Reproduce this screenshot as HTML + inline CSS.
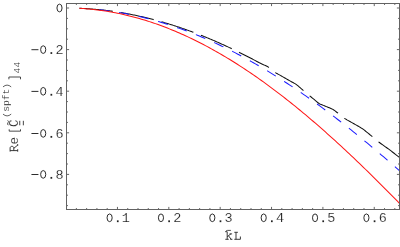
<!DOCTYPE html>
<html><head><meta charset="utf-8"><title>plot</title>
<style>
html,body{margin:0;padding:0;background:#fff;}
body{width:400px;height:247px;overflow:hidden;}
svg{display:block;will-change:transform;}
text{font-family:"Liberation Mono",monospace;fill:#1c1c1c;stroke:#fff;stroke-width:0.15px;}
</style></head><body>
<svg width="400" height="247" viewBox="0 0 400 247">
<defs><clipPath id="cb"><rect x="92" y="0" width="308" height="247"/></clipPath></defs>
<rect width="400" height="247" fill="#fff"/>
<g fill="none" stroke-width="1.02" stroke-linecap="butt">
<path d="M79.40,8.27 L80.40,8.31 L81.40,8.36 L82.40,8.41 L83.40,8.46 L84.40,8.51 L85.40,8.57 L86.40,8.63 L87.40,8.69 L88.40,8.76 L89.40,8.83 L90.40,8.90 L91.40,8.98 L92.40,9.06 L93.40,9.14 L94.40,9.22 L95.40,9.31 L96.40,9.40 L97.40,9.50 L98.40,9.59 L99.40,9.69 L100.40,9.80 L101.40,9.90 L102.40,10.01 L103.40,10.12 L104.40,10.24 L105.40,10.36 L106.40,10.48 L107.40,10.60 L108.40,10.73 L109.40,10.86 L110.40,10.99 L111.40,11.13 L112.40,11.27 L113.40,11.41 L114.40,11.56 L115.40,11.71 L116.40,11.86 L117.40,12.01 L118.40,12.17 L119.40,12.33 L120.40,12.49 L121.40,12.66 L122.40,12.83 L123.40,13.00 L124.40,13.18 L125.40,13.36 L126.40,13.54 L127.40,13.72 L128.40,13.91 L129.40,14.10 L130.40,14.29 L131.40,14.49 L132.40,14.69 L133.40,14.89 L134.40,15.10 L135.40,15.30 L136.40,15.52 L137.40,15.73 L138.40,15.95 L139.40,16.17 L140.40,16.39 L141.40,16.62 L142.40,16.84 L143.40,17.08 L144.40,17.31 L145.40,17.55 L146.40,17.79 L147.40,18.03 L148.40,18.28 L149.40,18.53 L150.40,18.78 L151.40,19.04 L152.40,19.29 L153.40,19.56 L154.40,19.82 L155.40,20.09 L156.40,20.36 L157.40,20.63 L158.40,20.90 L159.40,21.18 L160.40,21.46 L161.40,21.75 L162.40,22.04 L163.40,22.33 L164.40,22.62 L165.40,22.91 L166.40,23.21 L167.40,23.51 L168.40,23.82 L169.40,24.13 L170.40,24.44 L171.40,24.75 L172.40,25.06 L173.40,25.38 L174.40,25.70 L175.40,26.03 L176.40,26.36 L177.40,26.68 L178.40,27.02 L179.40,27.35 L180.40,27.69 L181.40,28.03 L182.40,28.38 L183.40,28.72 L184.40,29.07 L185.40,29.42 L186.40,29.78 L187.40,30.14 L188.40,30.50 L189.40,30.86 L190.40,31.23 L191.40,31.59 L192.40,31.97 L193.40,32.34 L194.40,32.72 L195.40,33.10 L196.40,33.48 L197.40,33.86 L198.40,34.25 L199.40,34.64 L200.40,35.04 L201.40,35.43 L202.40,35.83 L203.40,36.23 L204.40,36.64 L205.40,37.04 L206.40,37.45 L207.40,37.86 L208.40,38.28 L209.40,38.70 L210.40,39.12 L211.40,39.54 L212.40,39.96 L213.40,40.39 L214.40,40.82 L215.40,41.26 L216.40,41.69 L217.40,42.13 L218.40,42.57 L219.40,43.01 L220.40,43.46 L221.40,43.91 L222.40,44.36 L223.40,44.81 L224.40,45.27 L225.40,45.73 L226.40,46.19 L227.40,46.65 L228.40,47.12 L229.40,47.59 L230.40,48.06 L231.40,48.54 L232.40,49.01 L233.40,49.49 L234.40,49.97 L235.40,50.46 L236.40,50.94 L237.40,51.43 L238.40,51.93 L239.40,52.42 L240.40,52.92 L241.40,53.42 L242.40,53.92 L243.40,54.42 L244.40,54.93 L245.40,55.44 L246.40,55.95 L247.40,56.46 L248.40,56.98 L249.40,57.49 L250.40,58.02 L251.40,58.54 L252.40,59.06 L253.40,59.59 L254.40,60.13 L255.40,60.67 L256.40,61.21 L257.40,61.75 L258.40,62.29 L259.40,62.81 L260.40,63.30 L261.40,63.77 L262.40,64.22 L263.40,64.66 L264.40,65.11 L265.40,65.57 L266.40,66.05 L267.40,66.57 L268.40,67.13 L269.40,67.76 L270.40,68.51 L271.40,69.35 L272.40,70.23 L273.40,71.10 L274.40,71.91 L275.40,72.62 L276.40,73.23 L277.40,73.79 L278.40,74.33 L279.40,74.87 L280.40,75.43 L281.40,76.00 L282.40,76.57 L283.40,77.14 L284.40,77.72 L285.40,78.29 L286.40,78.87 L287.40,79.44 L288.40,80.01 L289.40,80.58 L290.40,81.15 L291.40,81.71 L292.40,82.27 L293.40,82.81 L294.40,83.33 L295.40,83.90 L296.40,84.58 L297.40,85.35 L298.40,86.18 L299.40,87.05 L300.40,87.95 L301.40,88.85 L302.40,89.74 L303.40,90.60 L304.40,91.43 L305.40,92.27 L306.40,93.10 L307.40,93.93 L308.40,94.76 L309.40,95.59 L310.40,96.41 L311.40,97.24 L312.40,98.07 L313.40,98.89 L314.40,99.72 L315.40,100.56 L316.40,101.40 L317.40,102.23 L318.40,103.01 L319.40,103.74 L320.40,104.20 L321.40,104.56 L322.40,104.96 L323.40,105.38 L324.40,105.79 L325.40,106.20 L326.40,106.61 L327.40,107.01 L328.40,107.41 L329.40,107.81 L330.40,108.23 L331.40,108.68 L332.40,109.16 L333.40,109.72 L334.40,110.44 L335.40,111.22 L336.40,111.98 L337.40,112.73 L338.40,113.50 L339.40,114.29 L340.40,115.11 L341.40,115.93 L342.40,116.74 L343.40,117.51 L344.40,118.23 L345.40,118.89 L346.40,119.51 L347.40,120.11 L348.40,120.68 L349.40,121.24 L350.40,121.80 L351.40,122.36 L352.40,122.93 L353.40,123.50 L354.40,124.05 L355.40,124.61 L356.40,125.16 L357.40,125.72 L358.40,126.29 L359.40,126.87 L360.40,127.46 L361.40,128.06 L362.40,128.70 L363.40,129.41 L364.40,130.20 L365.40,131.01 L366.40,131.82 L367.40,132.62 L368.40,133.43 L369.40,134.24 L370.40,135.06 L371.40,135.88 L372.40,136.70 L373.40,137.53 L374.40,138.38 L375.40,139.22 L376.40,140.07 L377.40,140.90 L378.40,141.71 L379.40,142.49 L380.40,143.24 L381.40,143.98 L382.40,144.70 L383.40,145.41 L384.40,146.12 L385.40,146.82 L386.40,147.52 L387.40,148.24 L388.40,148.96 L389.40,149.70 L390.40,150.45 L391.40,151.21 L392.40,151.97 L393.40,152.73 L394.40,153.50 L395.40,154.28 L396.40,155.06 L397.40,155.84 L398.40,156.63 L399.40,157.42 L400.00,157.90" stroke="#111" stroke-dasharray="33.6 8.1"/>
<path d="M79.40,8.28 L81.40,8.38 L83.40,8.48 L85.40,8.60 L87.40,8.73 L89.40,8.87 L91.40,9.03 L93.40,9.19 L95.40,9.38 L97.40,9.57 L99.40,9.78 L101.40,10.00 L103.40,10.23 L105.40,10.47 L107.40,10.73 L109.40,11.00 L111.40,11.28 L113.40,11.58 L115.40,11.89 L117.40,12.21 L119.40,12.54 L121.40,12.89 L123.40,13.25 L125.40,13.62 L127.40,14.01 L129.40,14.40 L131.40,14.81 L133.40,15.24 L135.40,15.67 L137.40,16.12 L139.40,16.58 L141.40,17.05 L143.40,17.53 L145.40,18.03 L147.40,18.54 L149.40,19.06 L151.40,19.60 L153.40,20.14 L155.40,20.70 L157.40,21.28 L159.40,21.86 L161.40,22.46 L163.40,23.06 L165.40,23.69 L167.40,24.32 L169.40,24.96 L171.40,25.62 L173.40,26.29 L175.40,26.97 L177.40,27.67 L179.40,28.37 L181.40,29.09 L183.40,29.82 L185.40,30.56 L187.40,31.32 L189.40,32.08 L191.40,32.86 L193.40,33.65 L195.40,34.45 L197.40,35.26 L199.40,36.09 L201.40,36.93 L203.40,37.78 L205.40,38.64 L207.40,39.51 L209.40,40.39 L211.40,41.29 L213.40,42.19 L215.40,43.11 L217.40,44.04 L219.40,44.98 L221.40,45.94 L223.40,46.90 L225.40,47.88 L227.40,48.86 L229.40,49.86 L231.40,50.87 L233.40,51.89 L235.40,52.92 L237.40,53.96 L239.40,55.02 L241.40,56.08 L243.40,57.16 L245.40,58.24 L247.40,59.34 L249.40,60.45 L251.40,61.57 L253.40,62.70 L255.40,63.84 L257.40,64.99 L259.40,66.15 L261.40,67.33 L263.40,68.51 L265.40,69.70 L267.40,70.91 L269.40,72.12 L271.40,73.35 L273.40,74.58 L275.40,75.83 L277.40,77.08 L279.40,78.35 L281.40,79.62 L283.40,80.91 L285.40,82.21 L287.40,83.51 L289.40,84.83 L291.40,86.15 L293.40,87.49 L295.40,88.83 L297.40,90.19 L299.40,91.55 L301.40,92.93 L303.40,94.31 L305.40,95.70 L307.40,97.10 L309.40,98.51 L311.40,99.94 L313.40,101.37 L315.40,102.80 L317.40,104.25 L319.40,105.71 L321.40,107.18 L323.40,108.65 L325.40,110.14 L327.40,111.63 L329.40,113.13 L331.40,114.64 L333.40,116.16 L335.40,117.69 L337.40,119.22 L339.40,120.77 L341.40,122.32 L343.40,123.88 L345.40,125.45 L347.40,127.03 L349.40,128.61 L351.40,130.20 L353.40,131.81 L355.40,133.42 L357.40,135.03 L359.40,136.66 L361.40,138.29 L363.40,139.93 L365.40,141.58 L367.40,143.23 L369.40,144.89 L371.40,146.56 L373.40,148.24 L375.40,149.92 L377.40,151.61 L379.40,153.31 L381.40,155.02 L383.40,156.73 L385.40,158.45 L387.40,160.17 L389.40,161.91 L391.40,163.64 L393.40,165.39 L395.40,167.14 L397.40,168.90 L399.40,170.66 L400.00,171.19" stroke="#1a1aff" stroke-dasharray="10.15 9.85" clip-path="url(#cb)"/>
<path d="M79.40,8.35 L81.40,8.46 L83.40,8.59 L85.40,8.74 L87.40,8.90 L89.40,9.07 L91.40,9.26 L93.40,9.47 L95.40,9.69 L97.40,9.93 L99.40,10.19 L101.40,10.46 L103.40,10.75 L105.40,11.05 L107.40,11.36 L109.40,11.70 L111.40,12.05 L113.40,12.41 L115.40,12.79 L117.40,13.19 L119.40,13.60 L121.40,14.02 L123.40,14.47 L125.40,14.92 L127.40,15.40 L129.40,15.89 L131.40,16.39 L133.40,16.91 L135.40,17.44 L137.40,17.99 L139.40,18.56 L141.40,19.14 L143.40,19.74 L145.40,20.35 L147.40,20.98 L149.40,21.62 L151.40,22.27 L153.40,22.95 L155.40,23.63 L157.40,24.34 L159.40,25.05 L161.40,25.78 L163.40,26.53 L165.40,27.29 L167.40,28.07 L169.40,28.86 L171.40,29.67 L173.40,30.49 L175.40,31.33 L177.40,32.18 L179.40,33.04 L181.40,33.92 L183.40,34.82 L185.40,35.73 L187.40,36.65 L189.40,37.59 L191.40,38.54 L193.40,39.51 L195.40,40.49 L197.40,41.48 L199.40,42.49 L201.40,43.52 L203.40,44.55 L205.40,45.60 L207.40,46.67 L209.40,47.75 L211.40,48.84 L213.40,49.95 L215.40,51.07 L217.40,52.21 L219.40,53.35 L221.40,54.52 L223.40,55.69 L225.40,56.88 L227.40,58.08 L229.40,59.30 L231.40,60.53 L233.40,61.77 L235.40,63.02 L237.40,64.29 L239.40,65.57 L241.40,66.87 L243.40,68.18 L245.40,69.50 L247.40,70.83 L249.40,72.18 L251.40,73.53 L253.40,74.90 L255.40,76.29 L257.40,77.68 L259.40,79.09 L261.40,80.51 L263.40,81.95 L265.40,83.39 L267.40,84.85 L269.40,86.32 L271.40,87.80 L273.40,89.29 L275.40,90.79 L277.40,92.31 L279.40,93.84 L281.40,95.38 L283.40,96.93 L285.40,98.49 L287.40,100.06 L289.40,101.65 L291.40,103.24 L293.40,104.85 L295.40,106.47 L297.40,108.10 L299.40,109.74 L301.40,111.38 L303.40,113.05 L305.40,114.72 L307.40,116.40 L309.40,118.09 L311.40,119.79 L313.40,121.50 L315.40,123.23 L317.40,124.96 L319.40,126.70 L321.40,128.45 L323.40,130.21 L325.40,131.98 L327.40,133.76 L329.40,135.55 L331.40,137.35 L333.40,139.16 L335.40,140.98 L337.40,142.80 L339.40,144.64 L341.40,146.48 L343.40,148.34 L345.40,150.20 L347.40,152.07 L349.40,153.94 L351.40,155.83 L353.40,157.72 L355.40,159.63 L357.40,161.54 L359.40,163.45 L361.40,165.38 L363.40,167.31 L365.40,169.25 L367.40,171.20 L369.40,173.16 L371.40,175.12 L373.40,177.09 L375.40,179.07 L377.40,181.05 L379.40,183.04 L381.40,185.04 L383.40,187.04 L385.40,189.05 L387.40,191.06 L389.40,193.08 L391.40,195.11 L393.40,197.15 L395.40,199.18 L397.40,201.23 L399.40,203.28 L400.00,203.89" stroke="#ff1414"/>
</g>
<g stroke="#4a4a4a" stroke-width="0.85"><line x1="76.37" y1="209.50" x2="76.37" y2="208.05"/><line x1="76.37" y1="3.50" x2="76.37" y2="4.95"/><line x1="86.64" y1="209.50" x2="86.64" y2="208.05"/><line x1="86.64" y1="3.50" x2="86.64" y2="4.95"/><line x1="96.92" y1="209.50" x2="96.92" y2="208.05"/><line x1="96.92" y1="3.50" x2="96.92" y2="4.95"/><line x1="107.19" y1="209.50" x2="107.19" y2="208.05"/><line x1="107.19" y1="3.50" x2="107.19" y2="4.95"/><line x1="117.46" y1="209.50" x2="117.46" y2="206.90"/><line x1="117.46" y1="3.50" x2="117.46" y2="6.10"/><line x1="127.73" y1="209.50" x2="127.73" y2="208.05"/><line x1="127.73" y1="3.50" x2="127.73" y2="4.95"/><line x1="138.00" y1="209.50" x2="138.00" y2="208.05"/><line x1="138.00" y1="3.50" x2="138.00" y2="4.95"/><line x1="148.28" y1="209.50" x2="148.28" y2="208.05"/><line x1="148.28" y1="3.50" x2="148.28" y2="4.95"/><line x1="158.55" y1="209.50" x2="158.55" y2="208.05"/><line x1="158.55" y1="3.50" x2="158.55" y2="4.95"/><line x1="168.82" y1="209.50" x2="168.82" y2="206.90"/><line x1="168.82" y1="3.50" x2="168.82" y2="6.10"/><line x1="179.09" y1="209.50" x2="179.09" y2="208.05"/><line x1="179.09" y1="3.50" x2="179.09" y2="4.95"/><line x1="189.36" y1="209.50" x2="189.36" y2="208.05"/><line x1="189.36" y1="3.50" x2="189.36" y2="4.95"/><line x1="199.64" y1="209.50" x2="199.64" y2="208.05"/><line x1="199.64" y1="3.50" x2="199.64" y2="4.95"/><line x1="209.91" y1="209.50" x2="209.91" y2="208.05"/><line x1="209.91" y1="3.50" x2="209.91" y2="4.95"/><line x1="220.18" y1="209.50" x2="220.18" y2="206.90"/><line x1="220.18" y1="3.50" x2="220.18" y2="6.10"/><line x1="230.45" y1="209.50" x2="230.45" y2="208.05"/><line x1="230.45" y1="3.50" x2="230.45" y2="4.95"/><line x1="240.72" y1="209.50" x2="240.72" y2="208.05"/><line x1="240.72" y1="3.50" x2="240.72" y2="4.95"/><line x1="251.00" y1="209.50" x2="251.00" y2="208.05"/><line x1="251.00" y1="3.50" x2="251.00" y2="4.95"/><line x1="261.27" y1="209.50" x2="261.27" y2="208.05"/><line x1="261.27" y1="3.50" x2="261.27" y2="4.95"/><line x1="271.54" y1="209.50" x2="271.54" y2="206.90"/><line x1="271.54" y1="3.50" x2="271.54" y2="6.10"/><line x1="281.81" y1="209.50" x2="281.81" y2="208.05"/><line x1="281.81" y1="3.50" x2="281.81" y2="4.95"/><line x1="292.08" y1="209.50" x2="292.08" y2="208.05"/><line x1="292.08" y1="3.50" x2="292.08" y2="4.95"/><line x1="302.36" y1="209.50" x2="302.36" y2="208.05"/><line x1="302.36" y1="3.50" x2="302.36" y2="4.95"/><line x1="312.63" y1="209.50" x2="312.63" y2="208.05"/><line x1="312.63" y1="3.50" x2="312.63" y2="4.95"/><line x1="322.90" y1="209.50" x2="322.90" y2="206.90"/><line x1="322.90" y1="3.50" x2="322.90" y2="6.10"/><line x1="333.17" y1="209.50" x2="333.17" y2="208.05"/><line x1="333.17" y1="3.50" x2="333.17" y2="4.95"/><line x1="343.44" y1="209.50" x2="343.44" y2="208.05"/><line x1="343.44" y1="3.50" x2="343.44" y2="4.95"/><line x1="353.72" y1="209.50" x2="353.72" y2="208.05"/><line x1="353.72" y1="3.50" x2="353.72" y2="4.95"/><line x1="363.99" y1="209.50" x2="363.99" y2="208.05"/><line x1="363.99" y1="3.50" x2="363.99" y2="4.95"/><line x1="374.26" y1="209.50" x2="374.26" y2="206.90"/><line x1="374.26" y1="3.50" x2="374.26" y2="6.10"/><line x1="384.53" y1="209.50" x2="384.53" y2="208.05"/><line x1="384.53" y1="3.50" x2="384.53" y2="4.95"/><line x1="394.80" y1="209.50" x2="394.80" y2="208.05"/><line x1="394.80" y1="3.50" x2="394.80" y2="4.95"/><line x1="66.50" y1="8.00" x2="69.10" y2="8.00"/><line x1="399.50" y1="8.00" x2="396.90" y2="8.00"/><line x1="66.50" y1="18.40" x2="67.95" y2="18.40"/><line x1="399.50" y1="18.40" x2="398.05" y2="18.40"/><line x1="66.50" y1="28.80" x2="67.95" y2="28.80"/><line x1="399.50" y1="28.80" x2="398.05" y2="28.80"/><line x1="66.50" y1="39.20" x2="67.95" y2="39.20"/><line x1="399.50" y1="39.20" x2="398.05" y2="39.20"/><line x1="66.50" y1="49.60" x2="69.10" y2="49.60"/><line x1="399.50" y1="49.60" x2="396.90" y2="49.60"/><line x1="66.50" y1="60.00" x2="67.95" y2="60.00"/><line x1="399.50" y1="60.00" x2="398.05" y2="60.00"/><line x1="66.50" y1="70.40" x2="67.95" y2="70.40"/><line x1="399.50" y1="70.40" x2="398.05" y2="70.40"/><line x1="66.50" y1="80.80" x2="67.95" y2="80.80"/><line x1="399.50" y1="80.80" x2="398.05" y2="80.80"/><line x1="66.50" y1="91.20" x2="69.10" y2="91.20"/><line x1="399.50" y1="91.20" x2="396.90" y2="91.20"/><line x1="66.50" y1="101.60" x2="67.95" y2="101.60"/><line x1="399.50" y1="101.60" x2="398.05" y2="101.60"/><line x1="66.50" y1="112.00" x2="67.95" y2="112.00"/><line x1="399.50" y1="112.00" x2="398.05" y2="112.00"/><line x1="66.50" y1="122.40" x2="67.95" y2="122.40"/><line x1="399.50" y1="122.40" x2="398.05" y2="122.40"/><line x1="66.50" y1="132.80" x2="69.10" y2="132.80"/><line x1="399.50" y1="132.80" x2="396.90" y2="132.80"/><line x1="66.50" y1="143.20" x2="67.95" y2="143.20"/><line x1="399.50" y1="143.20" x2="398.05" y2="143.20"/><line x1="66.50" y1="153.60" x2="67.95" y2="153.60"/><line x1="399.50" y1="153.60" x2="398.05" y2="153.60"/><line x1="66.50" y1="164.00" x2="67.95" y2="164.00"/><line x1="399.50" y1="164.00" x2="398.05" y2="164.00"/><line x1="66.50" y1="174.40" x2="69.10" y2="174.40"/><line x1="399.50" y1="174.40" x2="396.90" y2="174.40"/><line x1="66.50" y1="184.80" x2="67.95" y2="184.80"/><line x1="399.50" y1="184.80" x2="398.05" y2="184.80"/><line x1="66.50" y1="195.20" x2="67.95" y2="195.20"/><line x1="399.50" y1="195.20" x2="398.05" y2="195.20"/><line x1="66.50" y1="205.60" x2="67.95" y2="205.60"/><line x1="399.50" y1="205.60" x2="398.05" y2="205.60"/></g>
<g stroke="#626262" stroke-width="1" shape-rendering="crispEdges" fill="none">
<rect x="66.5" y="3.5" width="333.0" height="206.0"/>
</g>
<g font-size="13.5"><ellipse cx="109.61" cy="217.80" rx="2.55" ry="3.85" fill="none" stroke="#222" stroke-width="0.95"/><rect x="116.91" y="220.35" width="1.7" height="1.8" fill="#222"/><text x="125.91" y="222.10" text-anchor="middle">1</text><ellipse cx="160.97" cy="217.80" rx="2.55" ry="3.85" fill="none" stroke="#222" stroke-width="0.95"/><rect x="168.27" y="220.35" width="1.7" height="1.8" fill="#222"/><text x="177.27" y="222.10" text-anchor="middle">2</text><ellipse cx="212.33" cy="217.80" rx="2.55" ry="3.85" fill="none" stroke="#222" stroke-width="0.95"/><rect x="219.63" y="220.35" width="1.7" height="1.8" fill="#222"/><text x="228.63" y="222.10" text-anchor="middle">3</text><ellipse cx="263.69" cy="217.80" rx="2.55" ry="3.85" fill="none" stroke="#222" stroke-width="0.95"/><rect x="270.99" y="220.35" width="1.7" height="1.8" fill="#222"/><text x="279.99" y="222.10" text-anchor="middle">4</text><ellipse cx="315.05" cy="217.80" rx="2.55" ry="3.85" fill="none" stroke="#222" stroke-width="0.95"/><rect x="322.35" y="220.35" width="1.7" height="1.8" fill="#222"/><text x="331.35" y="222.10" text-anchor="middle">5</text><ellipse cx="366.41" cy="217.80" rx="2.55" ry="3.85" fill="none" stroke="#222" stroke-width="0.95"/><rect x="373.71" y="220.35" width="1.7" height="1.8" fill="#222"/><text x="382.71" y="222.10" text-anchor="middle">6</text><ellipse cx="59.50" cy="8.00" rx="2.55" ry="3.85" fill="none" stroke="#222" stroke-width="0.95"/><line x1="31.45" y1="49.70" x2="38.45" y2="49.70" stroke="#222" stroke-width="0.95"/><ellipse cx="43.20" cy="49.60" rx="2.55" ry="3.85" fill="none" stroke="#222" stroke-width="0.95"/><rect x="50.50" y="52.15" width="1.7" height="1.8" fill="#222"/><text x="59.50" y="53.90" text-anchor="middle">2</text><line x1="31.45" y1="91.40" x2="38.45" y2="91.40" stroke="#222" stroke-width="0.95"/><ellipse cx="43.20" cy="91.30" rx="2.55" ry="3.85" fill="none" stroke="#222" stroke-width="0.95"/><rect x="50.50" y="93.85" width="1.7" height="1.8" fill="#222"/><text x="59.50" y="95.60" text-anchor="middle">4</text><line x1="31.45" y1="133.50" x2="38.45" y2="133.50" stroke="#222" stroke-width="0.95"/><ellipse cx="43.20" cy="133.40" rx="2.55" ry="3.85" fill="none" stroke="#222" stroke-width="0.95"/><rect x="50.50" y="135.95" width="1.7" height="1.8" fill="#222"/><text x="59.50" y="137.70" text-anchor="middle">6</text><line x1="31.45" y1="174.50" x2="38.45" y2="174.50" stroke="#222" stroke-width="0.95"/><ellipse cx="43.20" cy="174.40" rx="2.55" ry="3.85" fill="none" stroke="#222" stroke-width="0.95"/><rect x="50.50" y="176.95" width="1.7" height="1.8" fill="#222"/><text x="59.50" y="178.70" text-anchor="middle">8</text></g>
<!-- x label -->
<g fill="none" stroke="#262626" stroke-width="0.9" stroke-linecap="butt" stroke-linejoin="miter">
<path d="M225.3,231.7 H227.2 V239.3 M225.3,239.3 H228.7 M227.2,236.7 L230.9,233.9 M229.5,233.9 H232.1 M228.5,235.8 L231.2,239.3 M230.2,239.3 H232.4"/>
<path d="M225.7,231.4 Q226.3,230.3 227.6,230.4 H230.9" stroke-width="0.8"/>
<path d="M234.3,232.3 H237.9 M236.0,232.3 V239.3 M234.3,239.3 H240.4 V236.5"/>
</g>
<!-- y label -->
<g transform="translate(17.8,152) rotate(-90)">
<g font-size="12.7">
<path d="M0.3,-0.1 H2.8 M1.4,-0.1 V-7.7 M0.4,-7.7 H3.9 C6.3,-7.7 6.3,-4.0 3.9,-4.0 H1.4 M3.7,-4.0 L6.9,-0.1 M6.2,-0.1 H7.9" fill="none" stroke="#262626" stroke-width="0.9"/><text x="7.6" y="0">e</text>
<path d="M22.7,2.7 H20.85 V-8.6 H22.7" fill="none" stroke="#2a2a2a" stroke-width="0.85"/>
<text x="24.9" y="0">C</text>
<path d="M72.7,2.7 H75.0 V-8.9 H72.7" fill="none" stroke="#2a2a2a" stroke-width="0.85"/>
</g>
<path d="M26.8,-9.5 q1.2,-1.4 2.4,-0.3 q1.2,1.1 2.4,-0.3" stroke="#222" stroke-width="0.8" fill="none"/>
<path d="M26.7,1.95 h4.5 M26.7,5.55 h4.5" stroke="#222" stroke-width="0.85"/>
<g font-size="9.7" style="stroke:#222;stroke-width:0.25px">
<path d="M37.9,-14.8 Q34.3,-10.7 37.9,-6.6" fill="none" stroke="#2a2a2a" stroke-width="0.75"/><text x="40.35" y="-8.5">s</text><text x="46.05" y="-8.5">p</text><text x="51.75" y="-8.5">f</text><text x="57.45" y="-8.5">t</text><path d="M65.1,-14.8 Q68.7,-10.7 65.1,-6.6" fill="none" stroke="#2a2a2a" stroke-width="0.75"/>
<text x="78.55" y="2.2">4</text><text x="84.6" y="2.2">4</text>
</g>
</g>
</svg>
</body></html>
